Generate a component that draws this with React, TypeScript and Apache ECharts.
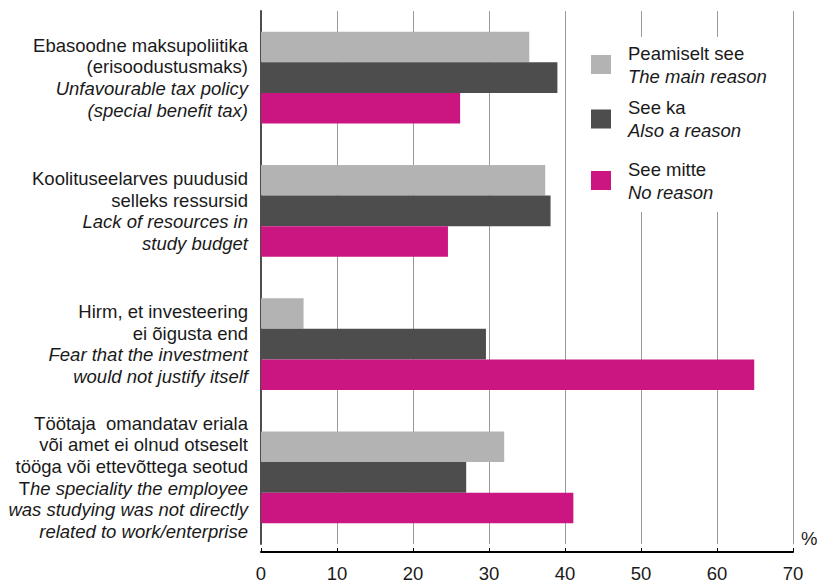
import React, { useEffect, useRef } from "react";
import * as echarts from "echarts";

const categoriesEt: string[][] = [
  ["Ebasoodne maksupoliitika", "(erisoodustusmaks)"],
  ["Koolituseelarves puudusid", "selleks ressursid"],
  ["Hirm, et investeering", "ei õigusta end"],
  ["Töötaja  omandatav eriala", "või amet ei olnud otseselt", "tööga või ettevõttega seotud"],
];
const categoriesEn: string[][] = [
  ["Unfavourable tax policy", "(special benefit tax)"],
  ["Lack of resources in", "study budget"],
  ["Fear that the investment", "would not justify itself"],
  ["The speciality the employee", "was studying was not directly", "related to work/enterprise"],
];

const seriesNamesEt = ["Peamiselt see", "See ka", "See mitte"];
const seriesNamesEn = ["The main reason", "Also a reason", "No reason"];
const seriesColors = ["#b3b3b3", "#4d4d4d", "#cb1681"];

const mainReason = [35.3, 37.4, 5.6, 32.0];
const alsoReason = [39.0, 38.1, 29.6, 27.0];
const noReason = [26.2, 24.6, 64.9, 41.1];

const xTicks = [0, 10, 20, 30, 40, 50, 60, 70];

const FONT = "'Liberation Sans', Arial, Helvetica, sans-serif";
const TEXT = "#1a1a1a";
const FS = 18.5;

export default function App() {
  const ref = useRef<HTMLDivElement>(null);
  useEffect(() => {
    if (!ref.current) return;
    const chart = echarts.init(ref.current, undefined, { renderer: "svg" });
    const catKeys = categoriesEt.map((l) => l.join(" "));
    const values = [mainReason, alsoReason, noReason];
    const legendTops = [43.5, 98, 159.5];
    const option: any = {
      animation: false,
      backgroundColor: "#ffffff",
      textStyle: { fontFamily: FONT },
      grid: { left: 261, right: 24, top: 11, bottom: 39, containLabel: false },
      xAxis: {
        type: "value",
        min: xTicks[0],
        max: xTicks[xTicks.length - 1],
        interval: 10,
        position: "bottom",
        offset: 8,
        axisLine: { show: true, lineStyle: { color: "#000", width: 2 } },
        axisTick: { show: true, inside: true, length: 4, lineStyle: { color: "#000", width: 1 } },
        axisLabel: { fontSize: FS, color: TEXT, fontFamily: FONT, margin: 12 },
        splitLine: { show: true, lineStyle: { color: "#999999", width: 1 } },
      },
      yAxis: {
        type: "category",
        inverse: true,
        data: catKeys,
        axisLine: { show: true, lineStyle: { color: "#4d4d4d", width: 2 } },
        axisTick: { show: false },
        splitLine: { show: false },
        axisLabel: {
          margin: 13,
          align: "right",
          formatter: (_v: string, idx: number) => {
            const et = categoriesEt[idx].map((l) => `{et|${l}}`);
            const en = categoriesEn[idx].map((l) =>
              l.startsWith("The speciality") ? `{et|T}{en|${l.slice(1)}}` : `{en|${l}}`
            );
            return et.concat(en).join("\n");
          },
          rich: {
            et: { fontSize: FS, lineHeight: 21.7, color: TEXT, fontFamily: FONT },
            en: { fontSize: FS, lineHeight: 21.7, color: TEXT, fontFamily: FONT, fontStyle: "italic" },
          },
        },
      },
      legend: seriesNamesEt.map((name, i) => ({
        data: [name],
        left: 591,
        top: legendTops[i],
        padding: 0,
        icon: "rect",
        itemWidth: 20,
        itemHeight: 19,
        selectedMode: false,
        z: 5,
        formatter: (n: string) => {
          const k = seriesNamesEt.indexOf(n);
          return `{a|${seriesNamesEt[k]}}\n{b|${seriesNamesEn[k]}}`;
        },
        textStyle: {
          padding: [0, 0, 0, 12],
          rich: {
            a: { fontSize: FS, lineHeight: 23, color: TEXT, fontFamily: FONT },
            b: { fontSize: FS, lineHeight: 23, color: TEXT, fontFamily: FONT, fontStyle: "italic" },
          },
        },
      })),
      graphic: [
        {
          type: "rect",
          z: 1,
          shape: { x: 580, y: 37, width: 180, height: 175 },
          style: { fill: "#ffffff" },
        },
        {
          type: "text",
          z: 5,
          x: 801,
          y: 538,
          style: { text: "%", fontSize: FS, fill: TEXT, fontFamily: FONT, verticalAlign: "middle" },
        },
      ],
      series: seriesNamesEt.map((name, i) => ({
        type: "bar",
        name,
        data: values[i],
        barWidth: 30.6,
        barGap: "0%",
        itemStyle: { color: seriesColors[i] },
      })),
    };
    chart.setOption(option);
    return () => chart.dispose();
  }, []);
  return (
    <div
      ref={ref}
      style={{ position: "fixed", left: 0, top: 0, width: 817, height: 583 }}
    />
  );
}
